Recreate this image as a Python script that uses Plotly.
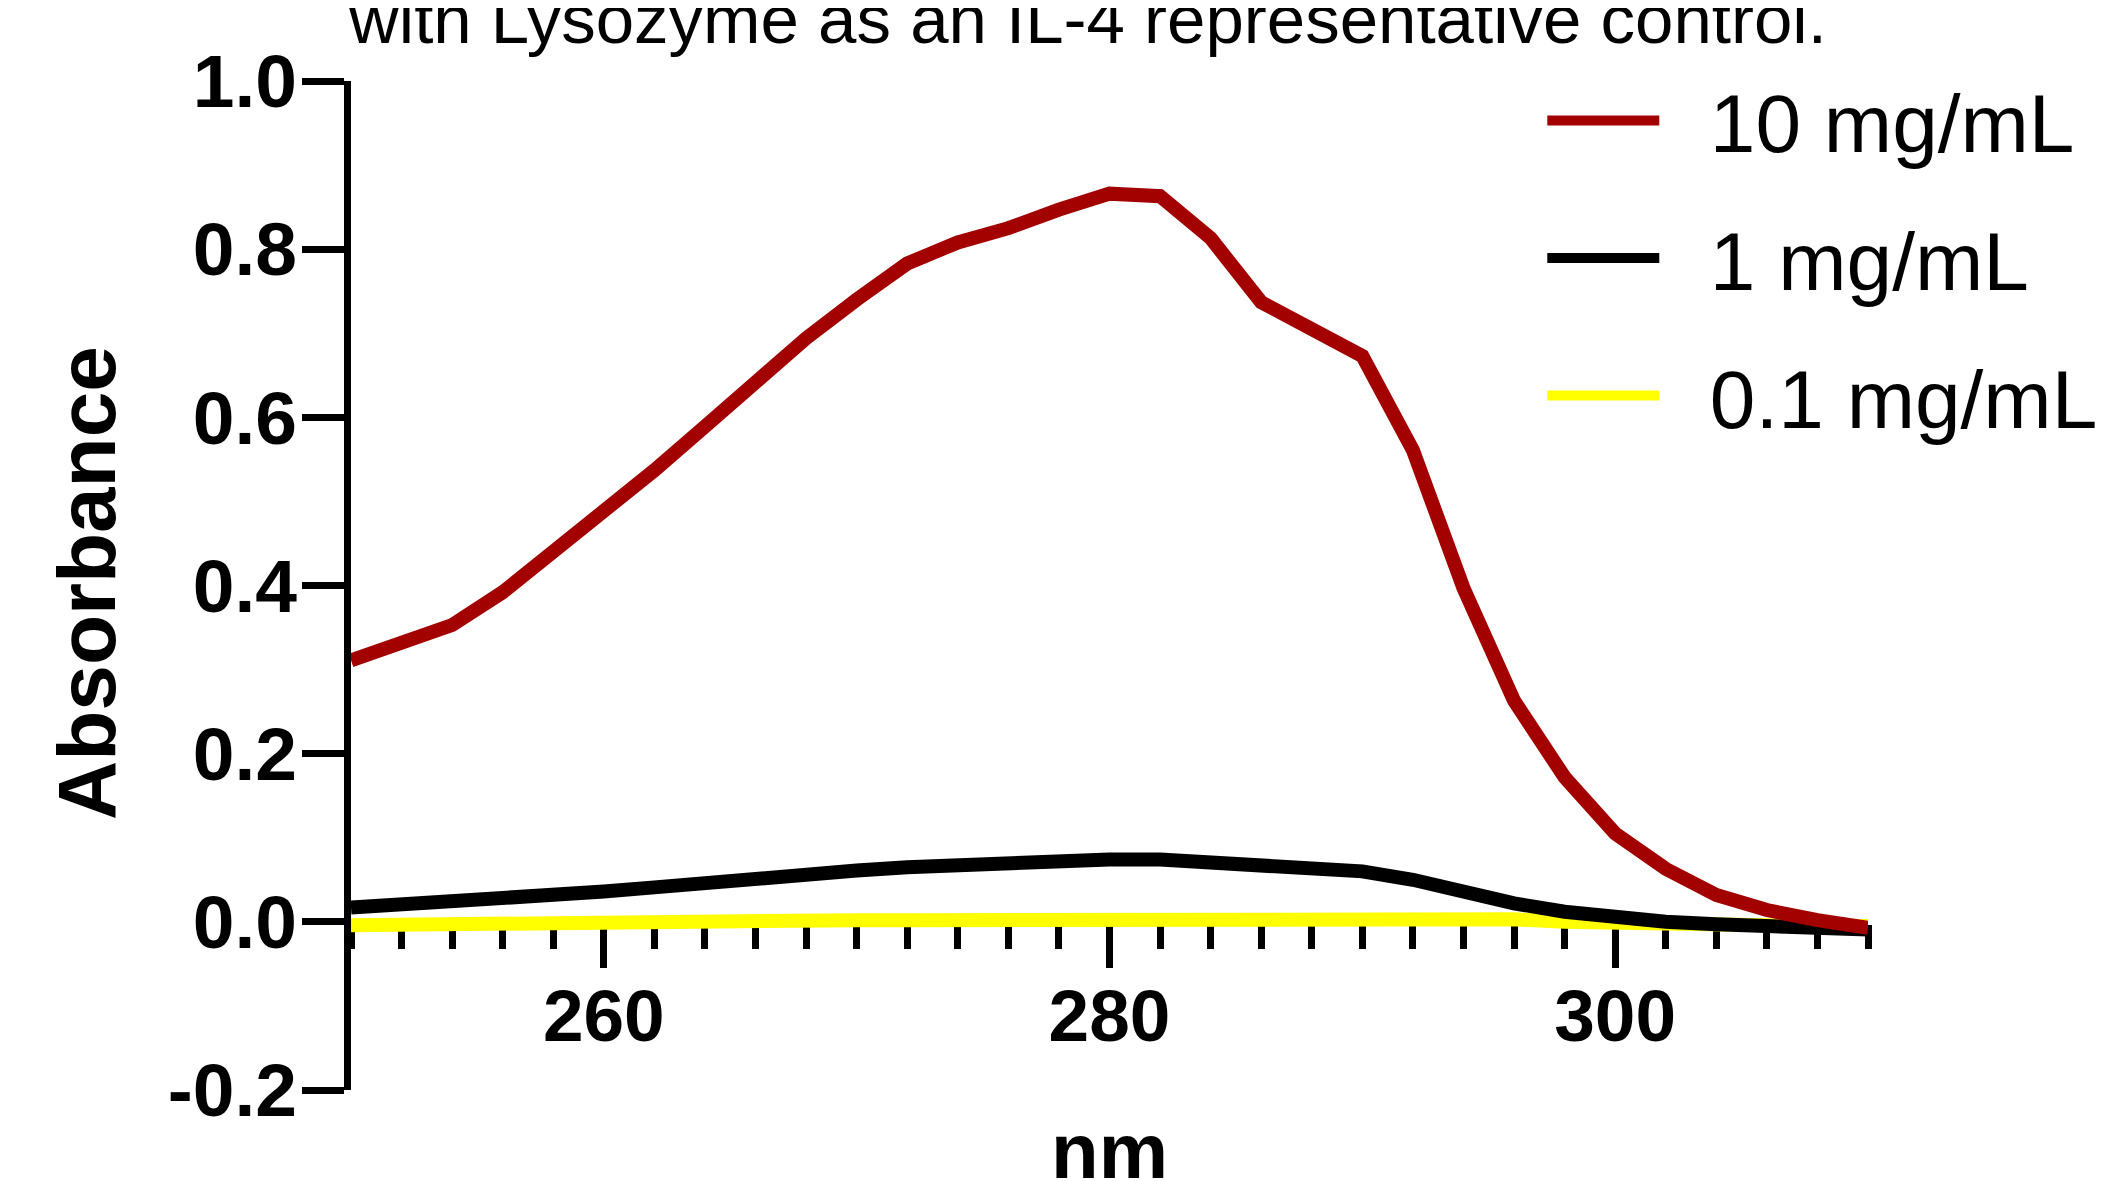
import plotly.graph_objects as go

# ---- data ----
wavelength_nm = [250, 252, 254, 256, 258, 260, 262, 264, 266, 268, 270, 272, 274, 276, 278, 280,
                 282, 284, 286, 288, 290, 292, 294, 296, 298, 300, 302, 304, 306, 308, 310]
abs_10_mg_ml = [0.311, 0.330, 0.353, 0.392, 0.439, 0.487, 0.537, 0.589, 0.643, 0.694, 0.740, 0.783,
                0.808, 0.825, 0.847, 0.866, 0.863, 0.813, 0.737, 0.704, 0.673, 0.561, 0.397, 0.263,
                0.172, 0.105, 0.063, 0.032, 0.014, 0.002, -0.007]
abs_1_mg_ml = [0.017, 0.020, 0.024, 0.028, 0.032, 0.036, 0.041, 0.047, 0.052, 0.057, 0.061, 0.065,
               0.068, 0.070, 0.072, 0.074, 0.074, 0.070, 0.064, 0.061, 0.060, 0.050, 0.035, 0.022,
               0.012, 0.005, 0.000, -0.003, -0.005, -0.007, -0.009]
abs_0_1_mg_ml = [-0.004, -0.003, -0.002, -0.001, 0.000, 0.001, 0.001, 0.002, 0.002, 0.002, 0.002, 0.002,
                 0.002, 0.002, 0.002, 0.002, 0.002, 0.002, 0.003, 0.004, 0.006, 0.006, 0.005, 0.003,
                 0.000, -0.002, -0.003, -0.004, -0.004, -0.005, -0.005]
series_names = ["10 mg/mL", "1 mg/mL", "0.1 mg/mL"]
y_tick_values = [-0.2, 0.0, 0.2, 0.4, 0.6, 0.8, 1.0]
y_tick_labels = ["-0.2", "0.0", "0.2", "0.4", "0.6", "0.8", "1.0"]
x_tick_values = [260, 280, 300]
x_tick_labels = ["260", "280", "300"]
title_text = "with Lysozyme as an IL-4 representative control."
x_title = "nm"
y_title = "Absorbance"

RED = "#A30000"
BLACK = "#000000"
YELLOW = "#FFFF00"
FONT = "Liberation Sans, Arial, sans-serif"
PAD = "\u00a0\u00a0"  # gap between legend line sample and label

fig = go.Figure()
# draw order: yellow (bottom), black, red (top); legend order via legendrank
fig.add_trace(go.Scatter(x=wavelength_nm, y=abs_0_1_mg_ml, mode="lines", name=PAD + series_names[2],
                         line=dict(color=YELLOW, width=14), legendrank=3, legendgroup="c"))
fig.add_trace(go.Scatter(x=wavelength_nm, y=abs_1_mg_ml, mode="lines", name=PAD + series_names[1],
                         line=dict(color=BLACK, width=14), legendrank=2, legendgroup="b"))
fig.add_trace(go.Scatter(x=wavelength_nm, y=abs_10_mg_ml, mode="lines", name=PAD + series_names[0],
                         line=dict(color=RED, width=14), legendrank=1, legendgroup="a"))

L, T, PW, PH = 343, 73, 1517, 1009
fig.update_layout(
    width=2110, height=1181,
    margin=dict(l=L, r=2110 - L - PW, t=T, b=1181 - T - PH, autoexpand=False),
    paper_bgcolor="white", plot_bgcolor="white",
    font=dict(family=FONT, color="black"),
    showlegend=True,
    legend=dict(x=0.7853, y=1.0202, xanchor="left", yanchor="top",
                font=dict(size=82, family=FONT, color="black"),
                itemwidth=112, tracegroupgap=28, bgcolor="rgba(0,0,0,0)"),
    xaxis=dict(range=[250, 310], anchor="free", position=0.2 / 1.2, layer="below traces",
               showline=True, linecolor="black", linewidth=6,
               showgrid=False, zeroline=False,
               tickmode="array", tickvals=x_tick_values, ticktext=x_tick_labels,
               ticks="outside", ticklen=43, tickwidth=7, tickcolor="black",
               ticklabelstandoff=-14,
               tickfont=dict(size=73, family=FONT, color="black", weight="bold"),
               minor=dict(dtick=2, tick0=250, ticks="outside", ticklen=24, tickwidth=7,
                          tickcolor="black", showgrid=False)),
    yaxis=dict(range=[-0.2, 1.0], showline=True, linecolor="black", linewidth=7, layer="below traces",
               showgrid=False, zeroline=False,
               tickmode="array", tickvals=y_tick_values, ticktext=y_tick_labels,
               ticks="outside", ticklen=42, tickwidth=7, tickcolor="black",
               ticklabelstandoff=-10,
               tickfont=dict(size=75, family=FONT, color="black", weight="bold")),
    annotations=[
        dict(text=title_text, xref="paper", yref="paper", x=0.4852, y=1.0605,
             xanchor="center", yanchor="middle", showarrow=False,
             font=dict(size=69, family=FONT, color="black")),
        dict(text=x_title, xref="paper", yref="paper", x=0.5, y=-0.0605,
             xanchor="center", yanchor="middle", showarrow=False,
             font=dict(size=78, family=FONT, color="black", weight="bold")),
        dict(text=y_title, xref="paper", yref="paper", x=(86 - 8 - L) / PW, y=(T + PH - (583 - 8)) / PH,
             xanchor="center", yanchor="middle", textangle=-90, showarrow=False,
             font=dict(size=82, family=FONT, color="black", weight="bold")),
    ],
)

fig.write_html("out.html")
